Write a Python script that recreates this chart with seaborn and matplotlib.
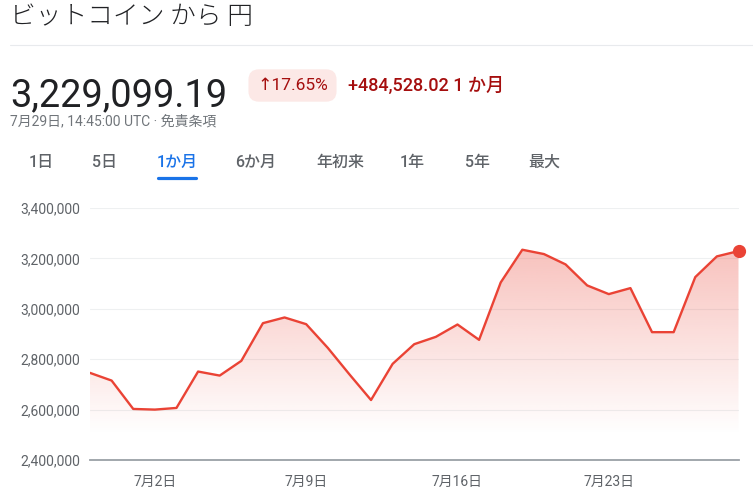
import numpy as np
import pandas as pd
import matplotlib
matplotlib.use("Agg")
import matplotlib.pyplot as plt
import matplotlib.dates as mdates
from matplotlib import font_manager
from matplotlib.colors import to_rgb
from matplotlib.lines import Line2D
import seaborn as sns

# BTC -> JPY, daily, one month
dates = ["2022-06-29", "2022-06-30", "2022-07-01", "2022-07-02", "2022-07-03",
         "2022-07-04", "2022-07-05", "2022-07-06", "2022-07-07", "2022-07-08",
         "2022-07-09", "2022-07-10", "2022-07-11", "2022-07-12", "2022-07-13",
         "2022-07-14", "2022-07-15", "2022-07-16", "2022-07-17", "2022-07-18",
         "2022-07-19", "2022-07-20", "2022-07-21", "2022-07-22", "2022-07-23",
         "2022-07-24", "2022-07-25", "2022-07-26", "2022-07-27", "2022-07-28",
         "2022-07-29"]
prices = [2745700, 2715200, 2602600, 2600000, 2606600, 2751000, 2735000, 2793400,
          2943000, 2965600, 2939000, 2845000, 2740000, 2638000, 2781500, 2859600,
          2888700, 2937700, 2876800, 3104600, 3234400, 3217200, 3176200, 3092700,
          3058300, 3082100, 2907300, 2907300, 3125800, 3208000, 3229099.19]

tick_dates = ["2022-07-02", "2022-07-09", "2022-07-16", "2022-07-23"]
tick_labels = ["7月2日", "7月9日", "7月16日", "7月23日"]
y_ticks = [2400000, 2600000, 2800000, 3000000, 3200000, 3400000]

tabs = ["1日", "5日", "1か月", "6か月", "年初来", "1年", "5年", "最大"]
active_tab = "1か月"

title = "ビットコイン から 円"
last_price = "3,229,099.19"
change_pct = "↑17.65%"
change_abs = "+484,528.02 1 か月"
timestamp = "7月29日, 14:45:00 UTC · 免責条項"

RED = "#ea4335"
DARK_RED = "#a50e0e"
GREY = "#5f6368"
BLUE = "#1a73e8"

sns.set_style("white")
plt.rcParams["font.family"] = ["Roboto", "Noto Sans CJK JP", "DejaVu Sans"]

available = {f.name for f in font_manager.fontManager.ttflist}
if "Liberation Sans Narrow" in available:
    big_font, big_size = "Liberation Sans Narrow", 29.5
else:
    big_font, big_size = "Roboto", 27.4

W, H = 753, 493
df = pd.DataFrame({"date": pd.to_datetime(dates), "price": prices})
y0, y1 = y_ticks[0], y_ticks[-1]

fig = plt.figure(figsize=(W / 100, H / 100), dpi=100)
ax = fig.add_axes([90 / W, 1 - 460 / H, (738.5 - 90) / W, (460 - 208) / H])

# gradient fill under the line, clipped to the area polygon
yy = np.linspace(y0, y1, 400)
rgba = np.zeros((400, 1, 4))
rgba[..., :3] = to_rgb(RED)
rgba[:, 0, 3] = np.clip((yy - 2500000) / (3250000 - 2500000), 0, 1) * 0.33
x0n = mdates.date2num(df["date"].iloc[0])
x1n = mdates.date2num(df["date"].iloc[-1])

sns.lineplot(data=df, x="date", y="price", ax=ax, color=RED, linewidth=1.7, zorder=3)
im = ax.imshow(rgba, extent=[x0n, x1n, y0, y1], origin="lower", aspect="auto",
               interpolation="bilinear", zorder=1)
area = ax.fill_between(df["date"], df["price"], y0, facecolor="none", edgecolor="none")
im.set_clip_path(area.get_paths()[0], transform=ax.transData)
ax.plot(df["date"].iloc[-1], df["price"].iloc[-1], "o", ms=8.5, color=RED,
        clip_on=False, zorder=4)

ax.set_xlim(df["date"].iloc[0], df["date"].iloc[-1])
ax.set_ylim(y0, y1)
ax.set_xlabel("")
ax.set_ylabel("")
ax.set_yticks(y_ticks)
ax.set_yticklabels([f"{v:,}" for v in y_ticks])
ax.set_xticks(pd.to_datetime(tick_dates))
ax.set_xticklabels(tick_labels)
ax.yaxis.grid(True, color="#eef0f1", linewidth=0.8)
ax.xaxis.grid(False)
ax.set_axisbelow(True)
for side in ["top", "left", "right"]:
    ax.spines[side].set_visible(False)
ax.spines["bottom"].set_color("#9aa0a6")
ax.spines["bottom"].set_linewidth(1.3)
ax.tick_params(axis="y", length=0, pad=7, labelsize=10, labelcolor=GREY)
ax.tick_params(axis="x", length=3.6, width=1.4, color=GREY, pad=7.5,
               labelsize=10, labelcolor=GREY)

# header
fig.text(10 / W, 1 - 17 / H, title, fontsize=18.5, color="#202124", va="center",
         family=["Noto Sans CJK JP"], weight="light")
fig.add_artist(Line2D([10 / W, 1], [1 - 44.5 / H] * 2, color="#e8eaed", lw=0.8,
                      transform=fig.transFigure))
fig.text(10 / W, 1 - 106 / H, last_price, fontsize=big_size, color="#202124",
         va="baseline", family=[big_font])
fig.text(292.5 / W, 1 - 85.5 / H, change_pct, ha="center", va="center",
         fontsize=12.5, color=DARK_RED, family=["Roboto", "DejaVu Sans"],
         bbox=dict(boxstyle="round,pad=0.5,rounding_size=0.6", fc="#fce8e6", ec="none"))
fig.text(348 / W, 1 - 86 / H, change_abs, va="center", fontsize=13, color=DARK_RED,
         weight="medium")
fig.text(10 / W, 1 - 121.5 / H, timestamp, va="center", fontsize=10, color="#70757a")

# period tabs
tab_x = [41, 105, 177, 256, 340, 412, 478, 544]
for label, cx in zip(tabs, tab_x):
    fig.text(cx / W, 1 - 162 / H, label, ha="center", va="center", fontsize=11.5,
             color=BLUE if label == active_tab else GREY, weight="medium")
fig.add_artist(Line2D([158 / W, 196 / W], [1 - 177.5 / H] * 2, color=BLUE, lw=2.3,
                      solid_capstyle="round", transform=fig.transFigure))

fig.savefig("out.png", dpi=100)
